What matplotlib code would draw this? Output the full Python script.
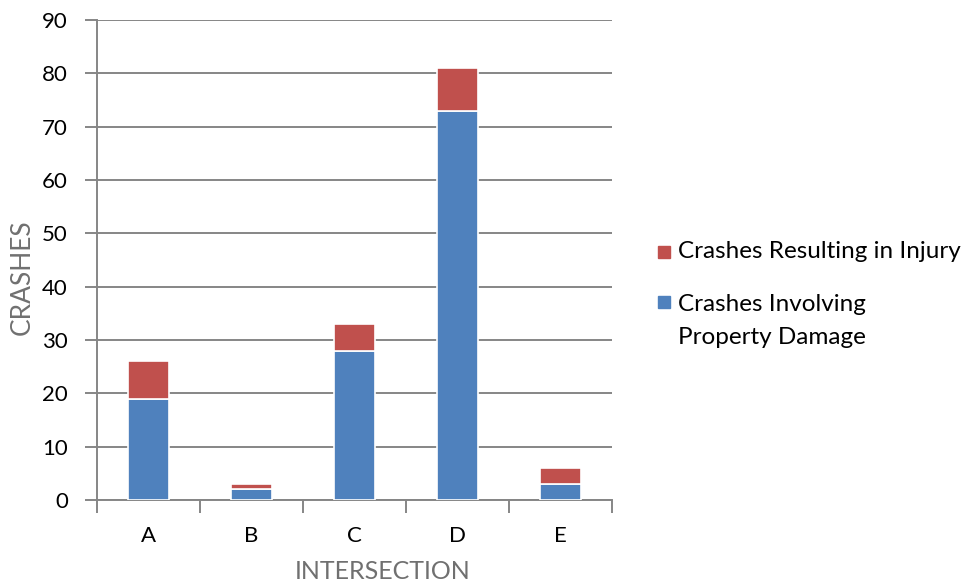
import matplotlib.pyplot as plt
from matplotlib.patches import Rectangle

intersections = ["A", "B", "C", "D", "E"]
property_damage = [19, 2, 28, 73, 3]
injury = [7, 1, 5, 8, 3]

label_injury = "Crashes Resulting in Injury"
label_property = "Crashes Involving\nProperty Damage"

blue = "#4F81BD"
red = "#C0504D"
grid_gray = "#868686"
text_gray = "#707070"

plt.rcParams['font.family'] = ['Lato', 'DejaVu Sans']

fig = plt.figure(figsize=(9.68, 5.86), dpi=100)
ax = fig.add_axes([0.1002, 0.1468, 0.532, 0.819])

x = range(len(intersections))
ax.bar(x, property_damage, width=0.39, color=blue, edgecolor="white", linewidth=1.2, zorder=3)
ax.bar(x, injury, width=0.39, bottom=property_damage, color=red, edgecolor="white",
       linewidth=1.2, zorder=3)

ax.set_xlim(-0.5, len(intersections) - 0.5)
ax.set_ylim(0, 90)
ax.set_yticks(range(0, 91, 10))
ax.yaxis.grid(True, color=grid_gray, linewidth=1.4, zorder=0)

ax.set_xticks(list(x))
ax.set_xticklabels(intersections)
ax.set_xticks([i - 0.5 for i in range(len(intersections) + 1)], minor=True)
ax.tick_params(axis="x", which="major", length=0, pad=19, labelsize=16)
ax.tick_params(axis="x", which="minor", length=9, width=1.4, color=grid_gray, direction="out")
ax.tick_params(axis="y", length=9, width=1.4, color=grid_gray, pad=12, labelsize=16)

for side in ["top", "right"]:
    ax.spines[side].set_visible(False)
for side in ["left", "bottom"]:
    ax.spines[side].set_color(grid_gray)
    ax.spines[side].set_linewidth(1.4)

# axis titles sit a little off-centre, as in the original
ax.set_ylabel("CRASHES", color=text_gray, fontsize=19, va="center", ha="center")
ax.yaxis.set_label_coords(-0.1456, 0.4646)
ax.set_xlabel("INTERSECTION", color=text_gray, fontsize=18, va="center", ha="center")
ax.xaxis.set_label_coords(0.555, -0.148)

# legend, drawn by hand so the square sits on the first line of text
fig.patches.append(Rectangle((658 / 968, 1 - 258 / 586), 12 / 968, 12 / 586,
                             transform=fig.transFigure, color=red))
fig.text(678 / 968, 1 - 252 / 586, label_injury, fontsize=17.5, va="center", ha="left")
fig.patches.append(Rectangle((658 / 968, 1 - 308 / 586), 12 / 968, 12 / 586,
                             transform=fig.transFigure, color=blue))
fig.text(678 / 968, 1 - 321 / 586, label_property, fontsize=17.5, va="center", ha="left",
         linespacing=1.72)

fig.savefig("out.png", dpi=100)
